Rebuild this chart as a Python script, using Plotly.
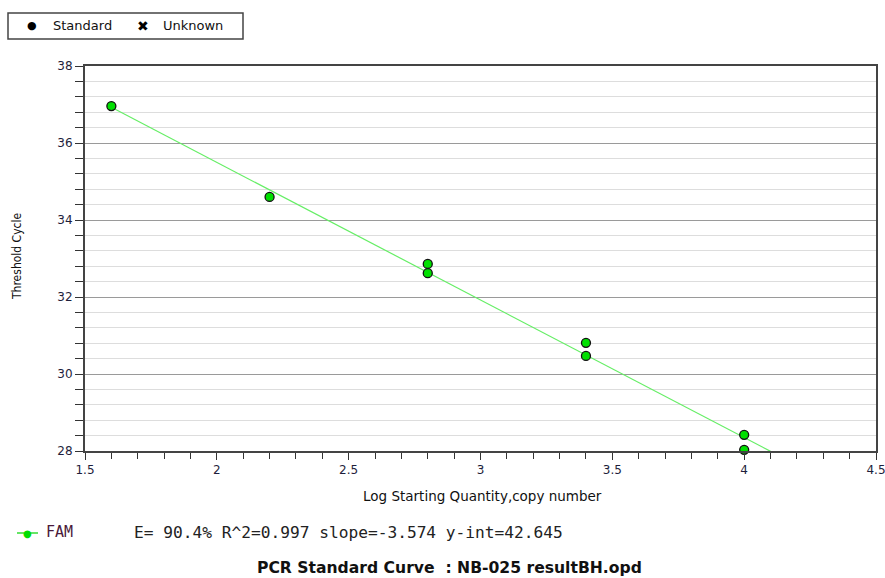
import plotly.graph_objects as go

# Data
log_qty = [1.6, 2.2, 2.8, 2.8, 3.4, 3.4, 4.0, 4.0]
ct_values = [36.96, 34.60, 32.86, 32.62, 30.81, 30.47, 28.42, 28.03]
slope = -3.574
intercept = 42.645
fit_x = [1.6, 4.1]
fit_y = [slope * v + intercept for v in fit_x]
stats_text = "E= 90.4% R^2=0.997 slope=-3.574 y-int=42.645"
series_name = "FAM"
title_text = "PCR Standard Curve  : NB-025 resultBH.opd"
x_title = "Log Starting Quantity,copy number"
y_title = "Threshold Cycle"

W, H = 885, 578
L, R, T, B = 85, 876, 66, 451


def px(xp):
    return (xp - L) / (R - L)


def py(yp):
    return (B - yp) / (B - T)


fig = go.Figure()
fig.add_trace(go.Scatter(x=fit_x, y=fit_y, mode="lines",
                         line=dict(color="#66ee66", width=1.2),
                         showlegend=False, hoverinfo="skip"))
fig.add_trace(go.Scatter(x=log_qty, y=ct_values, mode="markers",
                         marker=dict(color="#00e000", size=9,
                                     line=dict(color="#111111", width=1.3)),
                         showlegend=False, cliponaxis=False))

tick_font = dict(family="DejaVu Sans", size=12, color="#1e1e3c")

fig.update_xaxes(range=[1.5, 4.5], tick0=1.5, dtick=0.5, ticks="outside", ticklen=7,
                 tickcolor="#333", showgrid=False, zeroline=False, automargin=False,
                 showline=True, linecolor="#444", linewidth=2, mirror=True,
                 tickfont=tick_font, ticklabeloverflow="allow",
                 minor=dict(dtick=0.1, ticks="outside", ticklen=6, tickcolor="#333",
                            showgrid=False))
fig.update_yaxes(range=[28, 38], tick0=28, dtick=2, ticks="outside", ticklen=8,
                 tickcolor="#333", showgrid=True, gridcolor="#9a9a9a", gridwidth=1,
                 zeroline=False, showline=True, linecolor="#444", linewidth=2,
                 mirror=True, tickfont=tick_font, automargin=False,
                 minor=dict(dtick=0.4, ticks="outside", ticklen=8, tickcolor="#333",
                            showgrid=True, gridcolor="#dddddd", gridwidth=1))

shapes = [
    dict(type="rect", xref="paper", yref="paper", x0=px(8), x1=px(243), y0=py(39), y1=py(13),
         line=dict(color="#444", width=1.5), fillcolor="white", layer="above"),
    dict(type="line", xref="paper", yref="paper", x0=px(17), x1=px(38), y0=py(533), y1=py(533),
         line=dict(color="#33dd33", width=1.5)),
]


def ann(text, xp, yp, size, family="DejaVu Sans", color="#111", xanchor="left", angle=0):
    return dict(text=text, x=px(xp), y=py(yp), xref="paper", yref="paper", showarrow=False,
                xanchor=xanchor, yanchor="middle", textangle=angle,
                font=dict(family=family, size=size, color=color))


annotations = [
    ann("●", 32, 26, 11, color="black", xanchor="center"),
    ann("Standard", 51, 26, 13),
    ann("<b>✖</b>", 143, 26, 14, color="black", xanchor="center"),
    ann("Unknown", 161, 26, 13),
    ann(x_title, 482, 496, 13.5, xanchor="center"),
    ann(y_title, 17, 257, 12, family="Liberation Sans Narrow, DejaVu Sans Condensed, sans-serif",
        xanchor="center", angle=-90),
    ann("●", 28, 533, 10, color="#00dd00", xanchor="center"),
    ann(series_name, 44, 532, 15, family="DejaVu Sans Mono", color="#4a1a3a"),
    ann(stats_text, 132, 532, 16.2, family="DejaVu Sans Mono", color="#222"),
    ann("<b>" + title_text + "</b>", 449, 568, 15.6, xanchor="center"),
]

fig.update_layout(width=W, height=H, margin=dict(l=L, r=W - R, t=T, b=H - B),
                  plot_bgcolor="white", paper_bgcolor="white",
                  shapes=shapes, annotations=annotations, showlegend=False)

fig.write_html("out.html", config={"displayModeBar": False})
with open("out.html", "r", encoding="utf-8") as f:
    html = f.read()
html = html.replace("<head>", "<head><style>html,body{margin:0;padding:0;overflow:hidden;}</style>", 1)
with open("out.html", "w", encoding="utf-8") as f:
    f.write(html)
